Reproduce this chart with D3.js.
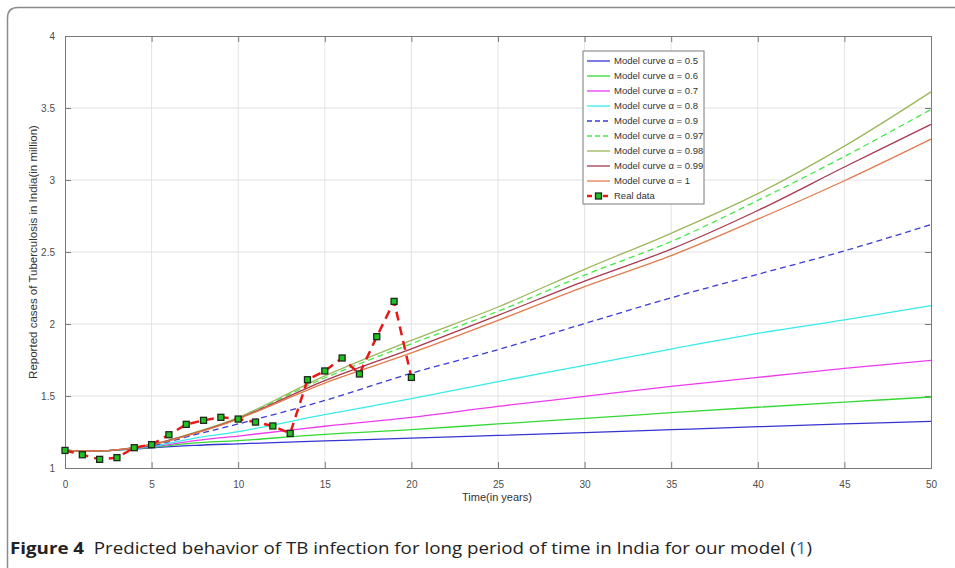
<!DOCTYPE html>
<html>
<head>
<meta charset="utf-8">
<script src="https://cdn.jsdelivr.net/npm/d3@7"></script>
<style>
  body { margin: 0; background: #fff; }
  svg { display: block; font-family: "Liberation Sans", Arial, sans-serif; }
  .tick text { fill: #4d4d4d; font-size: 10px; }
  .grid line { stroke: #e3e3e3; }
</style>
</head>
<body>
<svg width="955" height="568"></svg>
<script>
var years = [0, 2.5, 5, 7.5, 10, 15, 20, 25, 30, 35, 40, 45, 50];

var alpha05 = [1.122, 1.121, 1.140, 1.157, 1.168, 1.188, 1.208, 1.226, 1.245, 1.266, 1.287, 1.306, 1.324];
var alpha06 = [1.122, 1.121, 1.143, 1.174, 1.190, 1.234, 1.266, 1.306, 1.344, 1.384, 1.422, 1.458, 1.493];
var alpha07 = [1.122, 1.121, 1.146, 1.190, 1.222, 1.290, 1.352, 1.428, 1.497, 1.567, 1.629, 1.692, 1.747];
var alpha08 = [1.122, 1.121, 1.150, 1.208, 1.253, 1.370, 1.482, 1.600, 1.713, 1.826, 1.935, 2.028, 2.127];
var alpha09 = [1.122, 1.121, 1.155, 1.231, 1.306, 1.469, 1.658, 1.822, 2.003, 2.182, 2.345, 2.508, 2.690];
var alpha097 = [1.122, 1.121, 1.163, 1.245, 1.347, 1.625, 1.863, 2.088, 2.340, 2.573, 2.858, 3.163, 3.490];
var alpha098 = [1.122, 1.121, 1.165, 1.248, 1.350, 1.640, 1.886, 2.118, 2.380, 2.630, 2.905, 3.235, 3.612];
var alpha099 = [1.122, 1.121, 1.162, 1.243, 1.343, 1.607, 1.828, 2.060, 2.298, 2.520, 2.788, 3.090, 3.386];
var alpha1 = [1.122, 1.121, 1.160, 1.240, 1.340, 1.590, 1.799, 2.025, 2.260, 2.475, 2.728, 2.995, 3.284];

// real data, one per year 0..20
var realYears = [0, 1, 2, 3, 4, 5, 6, 7, 8, 9, 10, 11, 12, 13, 14, 15, 16, 17, 18, 19, 20];
var realValues = [1.122, 1.092, 1.060, 1.072, 1.141, 1.162, 1.231, 1.303, 1.331, 1.352, 1.340,
    1.319, 1.292, 1.240, 1.613, 1.674, 1.764, 1.653, 1.912, 2.157, 1.629];

var xTicks = [0, 5, 10, 15, 20, 25, 30, 35, 40, 45, 50];
var yTicks = [1, 1.5, 2, 2.5, 3, 3.5, 4];

var series = [
    { name: "Model curve \u03b1 = 0.5", values: alpha05, color: "#3434d2", dash: null },
    { name: "Model curve \u03b1 = 0.6", values: alpha06, color: "#35d835", dash: null },
    { name: "Model curve \u03b1 = 0.7", values: alpha07, color: "#ee3aee", dash: null },
    { name: "Model curve \u03b1 = 0.8", values: alpha08, color: "#38eaea", dash: null },
    { name: "Model curve \u03b1 = 0.9", values: alpha09, color: "#3a3ad8", dash: "6,4" },
    { name: "Model curve \u03b1 = 0.97", values: alpha097, color: "#45e845", dash: "6,4" },
    { name: "Model curve \u03b1 = 0.98", values: alpha098, color: "#9cb75c", dash: null },
    { name: "Model curve \u03b1 = 0.99", values: alpha099, color: "#a8384f", dash: null },
    { name: "Model curve \u03b1 = 1", values: alpha1, color: "#e27a4c", dash: null }
];

var svg = d3.select("svg"),
    margin = { top: 36, right: 24, bottom: 100, left: 65 },
    width = +svg.attr("width") - margin.left - margin.right,
    height = +svg.attr("height") - margin.top - margin.bottom;

// outer frame with rounded top-left corner
svg.append("path")
    .attr("d", "M7.5,568 V18 Q7.5,7.5 18,7.5 H955")
    .attr("fill", "none")
    .attr("stroke", "#8a8a8a")
    .attr("stroke-width", 1.5);

var x = d3.scaleLinear().domain([0, 50]).range([0, width]),
    y = d3.scaleLinear().domain([1, 4]).range([height, 0]);

var g = svg.append("g")
    .attr("transform", "translate(" + margin.left + "," + margin.top + ")");

// grid lines
g.append("g").attr("class", "grid")
    .selectAll("line").data(xTicks.slice(1, -1)).enter().append("line")
    .attr("x1", function(d) { return x(d); })
    .attr("x2", function(d) { return x(d); })
    .attr("y1", 0).attr("y2", height);

g.append("g").attr("class", "grid")
    .selectAll("line").data(yTicks.slice(1, -1)).enter().append("line")
    .attr("y1", function(d) { return y(d); })
    .attr("y2", function(d) { return y(d); })
    .attr("x1", 0).attr("x2", width);

// axes, MATLAB style ticks pointing inward
g.append("g")
    .attr("class", "axis axis--x")
    .attr("transform", "translate(0," + height + ")")
    .call(d3.axisBottom(x).tickValues(xTicks).tickSize(-6).tickPadding(13).tickFormat(d3.format("d")));

g.append("g")
    .attr("class", "axis axis--y")
    .call(d3.axisLeft(y).tickValues(yTicks).tickSize(-6).tickPadding(10).tickFormat(d3.format("")));

g.append("g")
    .call(d3.axisTop(x).tickValues(xTicks).tickSize(-6).tickFormat(""));

g.append("g")
    .attr("transform", "translate(" + width + ",0)")
    .call(d3.axisRight(y).tickValues(yTicks).tickSize(-6).tickFormat(""));

g.selectAll(".domain").attr("stroke", "#7a7a7a");
g.selectAll(".tick line").attr("stroke", "#7a7a7a");

// axis titles
g.append("text")
    .attr("x", width / 2 - 1)
    .attr("y", height + 33)
    .attr("text-anchor", "middle")
    .attr("fill", "#333")
    .style("font-size", "11px")
    .text("Time(in years)");

g.append("text")
    .attr("transform", "translate(-28," + (height / 2) + ") rotate(-90)")
    .attr("text-anchor", "middle")
    .attr("fill", "#333")
    .style("font-size", "11.5px")
    .text("Reported cases of Tuberculosis in India(in million)");

// model curves
var line = d3.line()
    .x(function(d, i) { return x(years[i]); })
    .y(function(d) { return y(d); })
    .curve(d3.curveCatmullRom.alpha(0.5));

g.selectAll(".model")
    .data(series)
    .enter().append("path")
    .attr("class", "model")
    .attr("d", function(s) { return line(s.values); })
    .attr("fill", "none")
    .attr("stroke", function(s) { return s.color; })
    .attr("stroke-width", 1.3)
    .attr("stroke-dasharray", function(s) { return s.dash; });

// real data
var realLine = d3.line()
    .x(function(d, i) { return x(realYears[i]); })
    .y(function(d) { return y(d); });

g.append("path")
    .attr("d", realLine(realValues))
    .attr("fill", "none")
    .attr("stroke", "#e81818")
    .attr("stroke-width", 2.5)
    .attr("stroke-dasharray", "9,6");

g.selectAll(".marker")
    .data(realValues)
    .enter().append("rect")
    .attr("class", "marker")
    .attr("x", function(d, i) { return x(realYears[i]) - 3; })
    .attr("y", function(d) { return y(d) - 3; })
    .attr("width", 6)
    .attr("height", 6)
    .attr("fill", "#22c022")
    .attr("stroke", "#1b2b1b")
    .attr("stroke-width", 1.3);

// legend
var legend = svg.append("g").attr("transform", "translate(583,51)");

legend.append("rect")
    .attr("width", 121)
    .attr("height", 153)
    .attr("fill", "#fff")
    .attr("stroke", "#7a7a7a");

var rows = legend.selectAll(".row")
    .data(series.concat([{ name: "Real data", real: true }]))
    .enter().append("g")
    .attr("class", "row")
    .attr("transform", function(d, i) { return "translate(0," + (10 + i * 15) + ")"; });

rows.append("line")
    .attr("x1", 4).attr("x2", 27)
    .attr("stroke", function(d) { return d.real ? "#e81818" : d.color; })
    .attr("stroke-width", function(d) { return d.real ? 2.5 : 1.3; })
    .attr("stroke-dasharray", function(d) { return d.real ? "5,3" : d.dash ? "5,3" : null; });

rows.filter(function(d) { return d.real; })
    .append("rect")
    .attr("x", 12.5).attr("y", -3)
    .attr("width", 6).attr("height", 6)
    .attr("fill", "#22c022")
    .attr("stroke", "#1b2b1b")
    .attr("stroke-width", 1.3);

rows.append("text")
    .attr("x", 31)
    .attr("dy", "0.35em")
    .attr("fill", "#333")
    .style("font-size", "9.5px")
    .text(function(d) { return d.name; });

// caption
var caption = svg.append("text")
    .attr("x", 10)
    .attr("y", 554)
    .attr("textLength", 802)
    .attr("lengthAdjust", "spacingAndGlyphs")
    .style("font-family", "'Open Sans', 'Noto Sans', sans-serif")
    .style("font-size", "16.5px")
    .attr("fill", "#222");

caption.append("tspan").style("font-weight", "bold").text("Figure 4");
caption.append("tspan").text("\u00a0 Predicted behavior of TB infection for long period of time in India for our model (");
caption.append("tspan").attr("fill", "#2f6ec0").text("1");
caption.append("tspan").text(")");
</script>
</body>
</html>
